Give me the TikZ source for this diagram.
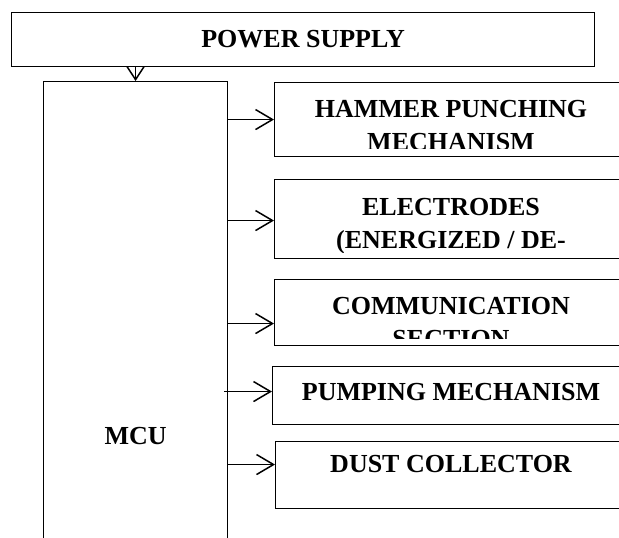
\documentclass[tikz,border=0pt]{standalone}
\usepackage{fontspec}
\setmainfont{Liberation Serif}
\usetikzlibrary{arrows.meta}

\tikzset{
  blk/.style={draw, line width=1.1pt, inner sep=0pt, anchor=north west},
  bigtxt/.style={font=\fontsize{26}{33}\selectfont\bfseries},
  lbl/.style={bigtxt, align=center, inner sep=0pt, anchor=north},
  arr/.style={line width=1.5pt, -{Straight Barb[length=17pt,width=20pt]}}
}

\begin{document}
\begin{tikzpicture}[x=1pt,y=-1pt]
\def\xT{451} % centre of the output texts
\useasboundingbox (0,0) rectangle (619,538);
\clip (0,0) rectangle (619,538);

% Supply and controller
\node[blk, bigtxt, minimum width=583pt, minimum height=54pt] (ps) at (11,12) {POWER SUPPLY};
\node[blk, bigtxt, minimum width=184pt, minimum height=708pt] (mcu) at (43,81) {MCU};

% Output blocks (they run past the right edge)
\node[blk, minimum width=354pt, minimum height=74pt] (hammer) at (274,82) {};
\node[blk, minimum width=354pt, minimum height=79pt] (electrodes) at (274,179) {};
\node[blk, minimum width=354pt, minimum height=66pt] (comm) at (274,279) {};
\node[blk, minimum width=356pt, minimum height=58pt] (pump) at (272,366) {};
\node[blk, minimum width=353pt, minimum height=67pt] (dust) at (275,441) {};

% Texts, cut off at the bottom of each block
\begin{scope}
\clip (hammer.north west) rectangle ([yshift=9pt]hammer.south east);
\node[lbl] (hammertxt) at (\xT,100) {HAMMER PUNCHING\\MECHANISM};
\end{scope}
\begin{scope}
\clip (electrodes.north west) rectangle ([yshift=7pt]electrodes.south east);
\node[lbl] (electrodestxt) at (\xT,198) {ELECTRODES\\(ENERGIZED / DE-};
\end{scope}
\begin{scope}
\clip (comm.north west) rectangle ([yshift=8pt]comm.south east);
\node[lbl] (commtxt) at (\xT,297) {COMMUNICATION\\SECTION};
\end{scope}
\node[lbl] (pumptxt) at (\xT,383) {PUMPING MECHANISM};
\node[lbl] (dusttxt) at (\xT,455) {DUST COLLECTOR};

% Arrow ends on the blocks
\path ([yshift=-1.5pt]electrodes.west) coordinate (e2);
\path ([yshift=-11pt]comm.west) coordinate (e3);
\path ([yshift=4pt]pump.west) coordinate (e4);
\path ([yshift=10.5pt]dust.west) coordinate (e5);

% Connectors
\draw[arr, -{Straight Barb[length=13pt,width=17pt]}] (ps.south -| mcu.north) -- (mcu.north);
\draw[arr] (mcu.east |- hammer.west) -- (hammer.west);
\draw[arr] (mcu.east |- e2) -- (e2);
\draw[arr] (mcu.east |- e3) -- (e3);
\draw[arr] ([xshift=-4pt]mcu.east |- e4) -- (e4);
\draw[arr] (mcu.east |- e5) -- (e5);
\end{tikzpicture}
\end{document}
